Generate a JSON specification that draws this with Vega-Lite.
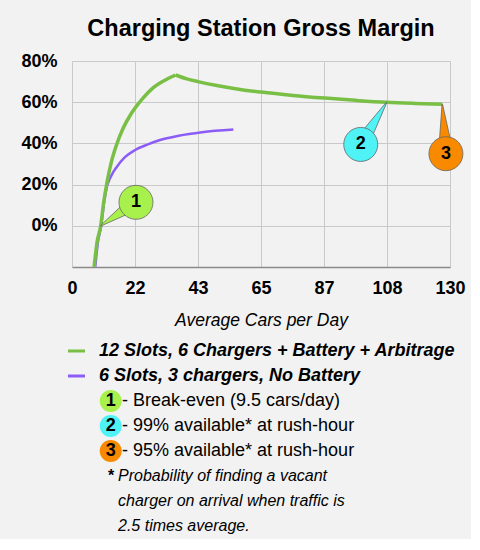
{
  "$schema": "https://vega.github.io/schema/vega-lite/v6.json",
  "description": "Charging Station Gross Margin",
  "background": "#f2f2f2",
  "padding": {"left": 20, "top": 16, "right": 5, "bottom": 5},
  "spacing": 13,
  "config": {"font": "Liberation Sans", "view": {"stroke": null}},
  "resolve": {"scale": {"x": "independent", "y": "independent", "color": "independent", "size": "independent"}},
  "datasets": {
    "margin": [
      {"config": "6 Slots, 3 chargers, No Battery", "part": "all", "cars": 8.0, "margin": -0.2},
      {"config": "6 Slots, 3 chargers, No Battery", "part": "all", "cars": 8.9, "margin": -0.081},
      {"config": "6 Slots, 3 chargers, No Battery", "part": "all", "cars": 10.05, "margin": 0.0},
      {"config": "6 Slots, 3 chargers, No Battery", "part": "all", "cars": 11.05, "margin": 0.114},
      {"config": "6 Slots, 3 chargers, No Battery", "part": "all", "cars": 12.2, "margin": 0.2},
      {"config": "6 Slots, 3 chargers, No Battery", "part": "all", "cars": 13.0, "margin": 0.228},
      {"config": "6 Slots, 3 chargers, No Battery", "part": "all", "cars": 14.0, "margin": 0.256},
      {"config": "6 Slots, 3 chargers, No Battery", "part": "all", "cars": 15.2, "margin": 0.282},
      {"config": "6 Slots, 3 chargers, No Battery", "part": "all", "cars": 18.2, "margin": 0.333},
      {"config": "6 Slots, 3 chargers, No Battery", "part": "all", "cars": 21.7, "margin": 0.368},
      {"config": "6 Slots, 3 chargers, No Battery", "part": "all", "cars": 26.1, "margin": 0.395},
      {"config": "6 Slots, 3 chargers, No Battery", "part": "all", "cars": 30.0, "margin": 0.415},
      {"config": "6 Slots, 3 chargers, No Battery", "part": "all", "cars": 36.7, "margin": 0.437},
      {"config": "6 Slots, 3 chargers, No Battery", "part": "all", "cars": 44.7, "margin": 0.454},
      {"config": "6 Slots, 3 chargers, No Battery", "part": "all", "cars": 55.5, "margin": 0.467},
      {"config": "12 Slots, 6 Chargers + Battery + Arbitrage", "part": "rise", "cars": 7.6, "margin": -0.2},
      {"config": "12 Slots, 6 Chargers + Battery + Arbitrage", "part": "rise", "cars": 8.6, "margin": -0.081},
      {"config": "12 Slots, 6 Chargers + Battery + Arbitrage", "part": "rise", "cars": 9.87, "margin": 0.0},
      {"config": "12 Slots, 6 Chargers + Battery + Arbitrage", "part": "rise", "cars": 10.9, "margin": 0.114},
      {"config": "12 Slots, 6 Chargers + Battery + Arbitrage", "part": "rise", "cars": 12.04, "margin": 0.211},
      {"config": "12 Slots, 6 Chargers + Battery + Arbitrage", "part": "rise", "cars": 13.52, "margin": 0.309},
      {"config": "12 Slots, 6 Chargers + Battery + Arbitrage", "part": "rise", "cars": 15.24, "margin": 0.39},
      {"config": "12 Slots, 6 Chargers + Battery + Arbitrage", "part": "rise", "cars": 17.54, "margin": 0.472},
      {"config": "12 Slots, 6 Chargers + Battery + Arbitrage", "part": "rise", "cars": 20.39, "margin": 0.545},
      {"config": "12 Slots, 6 Chargers + Battery + Arbitrage", "part": "rise", "cars": 23.83, "margin": 0.61},
      {"config": "12 Slots, 6 Chargers + Battery + Arbitrage", "part": "rise", "cars": 27.5, "margin": 0.665},
      {"config": "12 Slots, 6 Chargers + Battery + Arbitrage", "part": "rise", "cars": 31.5, "margin": 0.703},
      {"config": "12 Slots, 6 Chargers + Battery + Arbitrage", "part": "rise", "cars": 35.6, "margin": 0.732},
      {"config": "12 Slots, 6 Chargers + Battery + Arbitrage", "part": "fall", "cars": 35.6, "margin": 0.732},
      {"config": "12 Slots, 6 Chargers + Battery + Arbitrage", "part": "fall", "cars": 39.5, "margin": 0.713},
      {"config": "12 Slots, 6 Chargers + Battery + Arbitrage", "part": "fall", "cars": 43.3, "margin": 0.7},
      {"config": "12 Slots, 6 Chargers + Battery + Arbitrage", "part": "fall", "cars": 49.8, "margin": 0.681},
      {"config": "12 Slots, 6 Chargers + Battery + Arbitrage", "part": "fall", "cars": 57.8, "margin": 0.662},
      {"config": "12 Slots, 6 Chargers + Battery + Arbitrage", "part": "fall", "cars": 65.0, "margin": 0.649},
      {"config": "12 Slots, 6 Chargers + Battery + Arbitrage", "part": "fall", "cars": 76.0, "margin": 0.633},
      {"config": "12 Slots, 6 Chargers + Battery + Arbitrage", "part": "fall", "cars": 87.0, "margin": 0.62},
      {"config": "12 Slots, 6 Chargers + Battery + Arbitrage", "part": "fall", "cars": 97.5, "margin": 0.609},
      {"config": "12 Slots, 6 Chargers + Battery + Arbitrage", "part": "fall", "cars": 108.2, "margin": 0.5995},
      {"config": "12 Slots, 6 Chargers + Battery + Arbitrage", "part": "fall", "cars": 118.0, "margin": 0.594},
      {"config": "12 Slots, 6 Chargers + Battery + Arbitrage", "part": "fall", "cars": 127.35, "margin": 0.59}
    ],
    "callouts": [
      {"n": "1", "end": "base", "cars": 22.0, "margin": 0.114},
      {"n": "1", "end": "tip", "cars": 9.87, "margin": 0.0},
      {"n": "2", "end": "base", "cars": 99.3, "margin": 0.395},
      {"n": "2", "end": "tip", "cars": 108.2, "margin": 0.5995},
      {"n": "3", "end": "base", "cars": 128.6, "margin": 0.35},
      {"n": "3", "end": "tip", "cars": 127.35, "margin": 0.59}
    ],
    "notes": [
      {"line": 1, "series": "12 Slots, 6 Chargers + Battery + Arbitrage"},
      {"line": 2, "series": "6 Slots, 3 chargers, No Battery"},
      {"line": 3, "n": "1", "item": "- Break-even (9.5 cars/day)"},
      {"line": 4, "n": "2", "item": "- 99% available* at rush-hour"},
      {"line": 5, "n": "3", "item": "- 95% available* at rush-hour"},
      {"line": 6, "star": "*", "note": "Probability of finding a vacant"},
      {"line": 7, "note": "charger on arrival when traffic is"},
      {"line": 8, "note": "2.5 times average."}
    ]
  },
  "vconcat": [
    {
      "width": 378,
      "height": 206,
      "title": {
        "text": "Charging Station Gross Margin",
        "fontSize": 23.5,
        "fontWeight": "bold",
        "color": "#000",
        "anchor": "middle",
        "frame": "group",
        "offset": 12
      },
      "layer": [
        {
          "data": {"name": "margin"},
          "transform": [{"filter": "datum.config === '6 Slots, 3 chargers, No Battery'"}],
          "mark": {"type": "line", "color": "#8b5cf6", "strokeWidth": 2.5, "interpolate": "monotone"},
          "encoding": {
            "x": {
              "field": "cars",
              "type": "quantitative",
              "scale": {"domain": [0, 130], "nice": false, "zero": false},
              "axis": {
                "values": [0, 21.667, 43.333, 65, 86.667, 108.333, 130],
                "format": ".0f",
                "title": "Average Cars per Day",
                "titleFontSize": 17.5,
                "titleFontStyle": "italic",
                "titleFontWeight": "normal",
                "titleColor": "#000",
                "titlePadding": 14,
                "labelFontSize": 18,
                "labelFontWeight": "bold",
                "labelColor": "#000",
                "labelPadding": 12,
                "labelFlush": false,
                "labelOverlap": false,
                "ticks": false,
                "grid": true,
                "gridColor": "#c9c9c9",
                "domainColor": "#8a8a8a",
                "domainWidth": 1.5
              }
            },
            "y": {
              "field": "margin",
              "type": "quantitative",
              "scale": {"domain": [-0.2, 0.8], "nice": false, "zero": false},
              "axis": {
                "values": [0, 0.2, 0.4, 0.6, 0.8],
                "format": ".0%",
                "title": null,
                "labelFontSize": 18,
                "labelFontWeight": "bold",
                "labelColor": "#000",
                "labelPadding": 15,
                "labelFlush": false,
                "ticks": false,
                "domain": false,
                "grid": true,
                "gridColor": "#c9c9c9"
              }
            }
          }
        },
        {
          "data": {"name": "margin"},
          "transform": [{"filter": "datum.config === '12 Slots, 6 Chargers + Battery + Arbitrage'"}],
          "mark": {"type": "line", "color": "#79bf45", "strokeWidth": 3.5, "interpolate": "monotone"},
          "encoding": {
            "x": {"field": "cars", "type": "quantitative"},
            "y": {"field": "margin", "type": "quantitative"},
            "detail": {"field": "part"}
          }
        },
        {
          "data": {"name": "callouts"},
          "mark": {"type": "trail", "stroke": "#666", "strokeWidth": 0.8},
          "encoding": {
            "x": {"field": "cars", "type": "quantitative"},
            "y": {"field": "margin", "type": "quantitative"},
            "detail": {"field": "n"},
            "order": {"field": "end", "sort": "ascending"},
            "size": {"field": "end", "type": "ordinal", "scale": {"domain": ["base", "tip"], "range": [15, 0.5]}, "legend": null},
            "color": {"field": "n", "type": "nominal", "scale": {"domain": ["1", "2", "3"], "range": ["#a8f04c", "#4ff3f5", "#f98a00"]}, "legend": null}
          }
        },
        {
          "data": {"name": "callouts"},
          "transform": [{"filter": "datum.end === 'base'"}],
          "mark": {"type": "point", "shape": "circle", "filled": true, "size": 1156, "opacity": 1, "stroke": "#666", "strokeWidth": 0.8},
          "encoding": {
            "x": {"field": "cars", "type": "quantitative"},
            "y": {"field": "margin", "type": "quantitative"},
            "color": {"field": "n", "type": "nominal", "legend": null}
          }
        },
        {
          "data": {"name": "callouts"},
          "transform": [{"filter": "datum.end === 'base'"}],
          "mark": {"type": "text", "fontSize": 18, "fontWeight": "bold", "color": "#000", "align": "center", "baseline": "middle"},
          "encoding": {
            "x": {"field": "cars", "type": "quantitative"},
            "y": {"field": "margin", "type": "quantitative"},
            "text": {"field": "n"}
          }
        }
      ]
    },
    {
      "width": 378,
      "height": 175,
      "data": {"name": "notes"},
      "encoding": {
        "y": {"field": "line", "type": "ordinal", "axis": null, "scale": {"type": "point", "padding": 0}}
      },
      "layer": [
        {
          "transform": [{"filter": "isValid(datum.series)"}],
          "mark": {"type": "point", "shape": "stroke", "size": 289, "strokeWidth": 3, "filled": false, "opacity": 1},
          "encoding": {
            "x": {"datum": 4.5, "type": "quantitative", "scale": {"domain": [0, 378], "nice": false, "zero": false}, "axis": null},
            "color": {"field": "series", "type": "nominal", "scale": {"domain": ["12 Slots, 6 Chargers + Battery + Arbitrage", "6 Slots, 3 chargers, No Battery"], "range": ["#79bf45", "#8b5cf6"]}, "legend": null}
          }
        },
        {
          "transform": [{"filter": "isValid(datum.series)"}],
          "mark": {"type": "text", "fontSize": 18, "fontWeight": "bold", "fontStyle": "italic", "color": "#000", "align": "left", "baseline": "middle"},
          "encoding": {
            "x": {"datum": 27, "type": "quantitative"},
            "text": {"field": "series"}
          }
        },
        {
          "transform": [{"filter": "isValid(datum.n)"}],
          "mark": {"type": "point", "shape": "circle", "filled": true, "size": 484, "opacity": 1},
          "encoding": {
            "x": {"datum": 38.7, "type": "quantitative"},
            "fill": {"field": "n", "type": "nominal", "scale": {"domain": ["1", "2", "3"], "range": ["#a8f04c", "#4ff3f5", "#f98a00"]}, "legend": null}
          }
        },
        {
          "transform": [{"filter": "isValid(datum.n)"}],
          "mark": {"type": "text", "fontSize": 18, "fontWeight": "bold", "color": "#000", "align": "center", "baseline": "middle"},
          "encoding": {
            "x": {"datum": 38.7, "type": "quantitative"},
            "text": {"field": "n"}
          }
        },
        {
          "transform": [{"filter": "isValid(datum.n)"}],
          "mark": {"type": "text", "fontSize": 18, "color": "#000", "align": "left", "baseline": "middle"},
          "encoding": {
            "x": {"datum": 50, "type": "quantitative"},
            "text": {"field": "item"}
          }
        },
        {
          "transform": [{"filter": "isValid(datum.star)"}],
          "mark": {"type": "text", "fontSize": 16, "fontWeight": "bold", "color": "#000", "align": "left", "baseline": "middle"},
          "encoding": {
            "x": {"datum": 36, "type": "quantitative"},
            "text": {"field": "star"}
          }
        },
        {
          "transform": [{"filter": "isValid(datum.note)"}],
          "mark": {"type": "text", "fontSize": 16, "fontStyle": "italic", "color": "#000", "align": "left", "baseline": "middle"},
          "encoding": {
            "x": {"datum": 46, "type": "quantitative"},
            "text": {"field": "note"}
          }
        }
      ]
    }
  ]
}
